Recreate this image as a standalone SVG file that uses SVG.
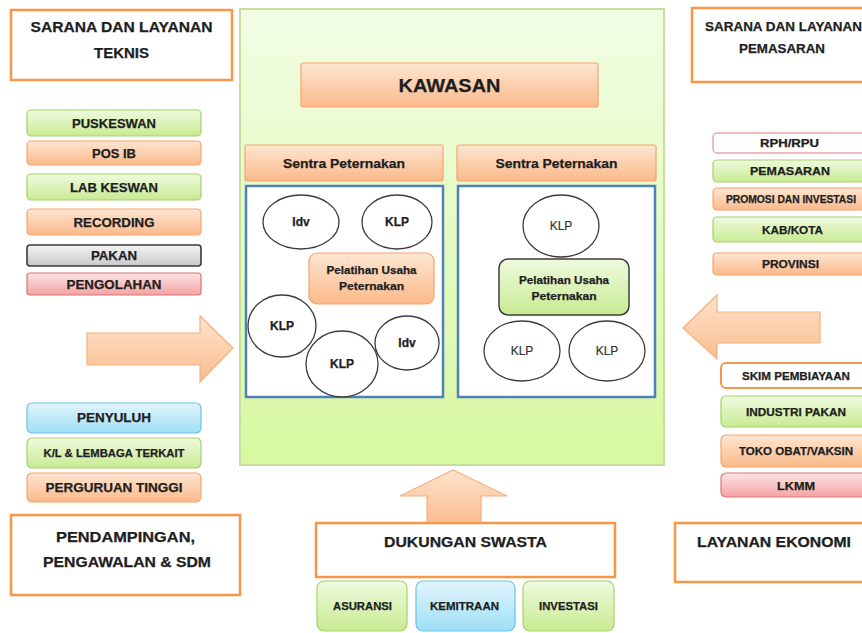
<svg xmlns="http://www.w3.org/2000/svg" width="862" height="633" viewBox="0 0 862 633">
  <defs>
    <linearGradient id="gOrange" x1="0" y1="0" x2="0" y2="1">
      <stop offset="0" stop-color="#fde6d2"/>
      <stop offset="1" stop-color="#fbb98a"/>
    </linearGradient>
    <linearGradient id="gGreen" x1="0" y1="0" x2="0" y2="1">
      <stop offset="0" stop-color="#effadf"/>
      <stop offset="1" stop-color="#c8eb92"/>
    </linearGradient>
    <linearGradient id="gBlue" x1="0" y1="0" x2="0" y2="1">
      <stop offset="0" stop-color="#e2f4fb"/>
      <stop offset="1" stop-color="#9ee0f6"/>
    </linearGradient>
    <linearGradient id="gGray" x1="0" y1="0" x2="0" y2="1">
      <stop offset="0" stop-color="#f4f4f4"/>
      <stop offset="1" stop-color="#c8c8c8"/>
    </linearGradient>
    <linearGradient id="gPink" x1="0" y1="0" x2="0" y2="1">
      <stop offset="0" stop-color="#fde4e4"/>
      <stop offset="1" stop-color="#f4a3a3"/>
    </linearGradient>
    <linearGradient id="gZone" x1="0" y1="0" x2="0" y2="1">
      <stop offset="0" stop-color="#f2fde4"/>
      <stop offset="1" stop-color="#d7f8a0"/>
    </linearGradient>
    <linearGradient id="gArrowH" x1="0" y1="0" x2="0" y2="1">
      <stop offset="0" stop-color="#fde3cc"/>
      <stop offset="1" stop-color="#fbbd8f"/>
    </linearGradient>
  </defs>
  <style>
    text { font-family: "Liberation Sans", Arial, sans-serif; font-weight: bold; fill: #1e1e1e; stroke: #1e1e1e; stroke-width: 0.25; text-anchor: middle; }
    .head { fill: #ffffff; stroke: #f79646; stroke-width: 2.5; }
    .or { fill: url(#gOrange); stroke: #f5a46a; stroke-width: 1.2; }
    .gr { fill: url(#gGreen); stroke: #a6cf6c; stroke-width: 1.2; }
    .bl { fill: url(#gBlue); stroke: #6cc3e0; stroke-width: 1.2; }
    .gy { fill: url(#gGray); stroke: #3a3a3a; stroke-width: 1.6; }
    .pk { fill: url(#gPink); stroke: #d57777; stroke-width: 1.2; }
    .wp { fill: #ffffff; stroke: #e8a8a8; stroke-width: 1.5; }
    .wo { fill: #ffffff; stroke: #f79646; stroke-width: 2; }
    .arrow { fill: url(#gArrowH); stroke: #f6b07c; stroke-width: 1.2; }
    .cell { fill: #ffffff; stroke: #4f81bd; stroke-width: 2.5; }
    .ell { fill: #ffffff; stroke: #3c3c3c; stroke-width: 1.3; }
    .light { font-weight: normal; fill: #333333; stroke: #333333; stroke-width: 0.2; }
    .t14 { font-size: 14px; }
    .t13 { font-size: 13px; }
    .t12 { font-size: 12px; }
    .t11 { font-size: 11px; }
    .t10 { font-size: 10px; }
  </style>

  <!-- central zone -->
  <g id="kawasan-zone">
    <rect x="240" y="9" width="424" height="456" fill="url(#gZone)" stroke="#c6df9c" stroke-width="2"/>
  </g>
  <g id="kawasan">
    <rect x="301" y="63" width="297" height="44" rx="2" class="or"/>
    <text x="449.5" y="92" font-size="19" textLength="102" lengthAdjust="spacingAndGlyphs">KAWASAN</text>
  </g>

  <g id="sentra-1">
    <rect x="245" y="145" width="198" height="36" rx="2" class="or"/>
    <text x="344" y="168" class="t13" textLength="122" lengthAdjust="spacingAndGlyphs">Sentra Peternakan</text>
    <rect x="246" y="186" width="197" height="211" class="cell"/>
    <ellipse cx="301" cy="222" rx="38" ry="27" class="ell"/>
    <text x="301" y="226" class="t12">Idv</text>
    <ellipse cx="397" cy="222" rx="35" ry="27" class="ell"/>
    <text x="397" y="226" class="t12">KLP</text>
    <rect x="309" y="253" width="125" height="51" rx="8" class="or"/>
    <text x="371.5" y="274" class="t11" textLength="90" lengthAdjust="spacingAndGlyphs">Pelatihan Usaha</text>
    <text x="371.5" y="290" class="t11" textLength="65" lengthAdjust="spacingAndGlyphs">Peternakan</text>
    <ellipse cx="282" cy="326" rx="34" ry="31" class="ell"/>
    <text x="282" y="330" class="t12">KLP</text>
    <ellipse cx="342" cy="364" rx="36" ry="33" class="ell"/>
    <text x="342" y="368" class="t12">KLP</text>
    <ellipse cx="407" cy="343" rx="32" ry="27" class="ell"/>
    <text x="407" y="347" class="t12">Idv</text>
  </g>

  <g id="sentra-2">
    <rect x="457" y="145" width="199" height="36" rx="2" class="or"/>
    <text x="556.5" y="168" class="t13" textLength="122" lengthAdjust="spacingAndGlyphs">Sentra Peternakan</text>
    <rect x="458" y="186" width="197" height="211" class="cell"/>
    <ellipse cx="561" cy="226" rx="38" ry="31" class="ell"/>
    <text x="561" y="230" class="t12 light">KLP</text>
    <rect x="499" y="259" width="130" height="56" rx="9" fill="url(#gGreen)" stroke="#3c3c3c" stroke-width="1.5"/>
    <text x="564" y="284" class="t11" textLength="90" lengthAdjust="spacingAndGlyphs">Pelatihan Usaha</text>
    <text x="564" y="300" class="t11" textLength="65" lengthAdjust="spacingAndGlyphs">Peternakan</text>
    <ellipse cx="522" cy="351" rx="38" ry="30" class="ell"/>
    <text x="522" y="355" class="t12 light">KLP</text>
    <ellipse cx="607" cy="351" rx="38" ry="30" class="ell"/>
    <text x="607" y="355" class="t12 light">KLP</text>
  </g>

  <!-- technical services -->
  <g id="sarana-teknis">
    <rect x="11" y="10" width="221" height="70" class="head"/>
    <text x="121.5" y="32" class="t14" textLength="182" lengthAdjust="spacingAndGlyphs">SARANA DAN LAYANAN</text>
    <text x="121.5" y="58" class="t14" textLength="55" lengthAdjust="spacingAndGlyphs">TEKNIS</text>
  </g>
  <g id="puskeswan"><rect x="27" y="110" width="174" height="26" rx="4" class="gr"/><text x="114" y="128" class="t13" textLength="84" lengthAdjust="spacingAndGlyphs">PUSKESWAN</text></g>
  <g id="pos-ib"><rect x="27" y="141" width="174" height="24" rx="4" class="or"/><text x="114" y="158" class="t13" textLength="44" lengthAdjust="spacingAndGlyphs">POS IB</text></g>
  <g id="lab-keswan"><rect x="27" y="174" width="174" height="26" rx="4" class="gr"/><text x="114" y="192" class="t13" textLength="88" lengthAdjust="spacingAndGlyphs">LAB KESWAN</text></g>
  <g id="recording"><rect x="27" y="209" width="174" height="26" rx="4" class="or"/><text x="114" y="227" class="t13" textLength="81" lengthAdjust="spacingAndGlyphs">RECORDING</text></g>
  <g id="pakan"><rect x="27" y="245" width="174" height="21" rx="3" class="gy"/><text x="114" y="260" class="t13" textLength="46" lengthAdjust="spacingAndGlyphs">PAKAN</text></g>
  <g id="pengolahan"><rect x="27" y="273" width="174" height="22" rx="3" class="pk"/><text x="114" y="289" class="t13" textLength="95" lengthAdjust="spacingAndGlyphs">PENGOLAHAN</text></g>

  <!-- mentoring and human resources -->
  <g id="penyuluh"><rect x="27" y="403" width="174" height="30" rx="5" class="bl"/><text x="114" y="422" class="t13" textLength="74" lengthAdjust="spacingAndGlyphs">PENYULUH</text></g>
  <g id="kl-lembaga"><rect x="27" y="438" width="174" height="30" rx="5" class="gr"/><text x="114" y="457" class="t10" textLength="141" lengthAdjust="spacingAndGlyphs">K/L &amp; LEMBAGA TERKAIT</text></g>
  <g id="perguruan-tinggi"><rect x="27" y="473" width="174" height="29" rx="5" class="or"/><text x="114" y="492" class="t13" textLength="137" lengthAdjust="spacingAndGlyphs">PERGURUAN TINGGI</text></g>
  <g id="pendampingan">
    <rect x="11" y="515" width="229" height="80" class="head"/>
    <text x="125.5" y="542" class="t14" textLength="139" lengthAdjust="spacingAndGlyphs">PENDAMPINGAN,</text>
    <text x="127" y="567" class="t14" textLength="168" lengthAdjust="spacingAndGlyphs">PENGAWALAN &amp; SDM</text>
  </g>

  <!-- marketing services -->
  <g id="sarana-pemasaran">
    <rect x="692" y="8" width="180" height="74" class="head"/>
    <text x="783.5" y="31" class="t13" textLength="157" lengthAdjust="spacingAndGlyphs">SARANA DAN LAYANAN</text>
    <text x="782" y="53" class="t13" textLength="86" lengthAdjust="spacingAndGlyphs">PEMASARAN</text>
  </g>
  <g id="rph-rpu"><rect x="713" y="133" width="160" height="20" rx="4" class="wp"/><text x="789.5" y="147" class="t11" textLength="59" lengthAdjust="spacingAndGlyphs">RPH/RPU</text></g>
  <g id="pemasaran"><rect x="713" y="160" width="160" height="22" rx="4" class="gr"/><text x="790" y="175" class="t11" textLength="80" lengthAdjust="spacingAndGlyphs">PEMASARAN</text></g>
  <g id="promosi"><rect x="713" y="188" width="160" height="22" rx="4" class="or"/><text x="791" y="203" class="t10" textLength="130" lengthAdjust="spacingAndGlyphs">PROMOSI DAN INVESTASI</text></g>
  <g id="kab-kota"><rect x="713" y="217" width="160" height="25" rx="4" class="gr"/><text x="792.5" y="234" class="t11" textLength="61" lengthAdjust="spacingAndGlyphs">KAB/KOTA</text></g>
  <g id="provinsi"><rect x="713" y="253" width="160" height="22" rx="4" class="or"/><text x="790.5" y="268" class="t11" textLength="57" lengthAdjust="spacingAndGlyphs">PROVINSI</text></g>

  <!-- economic services -->
  <g id="skim"><rect x="721" y="363" width="152" height="25" rx="5" class="wo"/><text x="796" y="380" class="t11" textLength="108" lengthAdjust="spacingAndGlyphs">SKIM PEMBIAYAAN</text></g>
  <g id="industri-pakan"><rect x="721" y="396" width="152" height="31" rx="5" class="gr"/><text x="796" y="416" class="t11" textLength="100" lengthAdjust="spacingAndGlyphs">INDUSTRI PAKAN</text></g>
  <g id="toko-obat"><rect x="721" y="435" width="152" height="32" rx="5" class="or"/><text x="796" y="455" class="t11" textLength="114" lengthAdjust="spacingAndGlyphs">TOKO OBAT/VAKSIN</text></g>
  <g id="lkmm"><rect x="721" y="473" width="152" height="24" rx="5" class="pk"/><text x="796" y="490" class="t11" textLength="38" lengthAdjust="spacingAndGlyphs">LKMM</text></g>
  <g id="layanan-ekonomi">
    <rect x="675" y="523" width="197" height="59" class="head"/>
    <text x="774" y="547" class="t14" textLength="154" lengthAdjust="spacingAndGlyphs">LAYANAN EKONOMI</text>
  </g>

  <!-- private sector support -->
  <g id="dukungan-swasta">
    <rect x="316" y="523" width="299" height="54" class="head"/>
    <text x="465.5" y="547" class="t14" textLength="163" lengthAdjust="spacingAndGlyphs">DUKUNGAN SWASTA</text>
  </g>
  <g id="asuransi"><rect x="317" y="581" width="90" height="50" rx="7" class="gr"/><text x="362.5" y="610" class="t11" textLength="59" lengthAdjust="spacingAndGlyphs">ASURANSI</text></g>
  <g id="kemitraan"><rect x="416" y="581" width="99" height="50" rx="7" class="bl"/><text x="464.5" y="610" class="t11" textLength="69" lengthAdjust="spacingAndGlyphs">KEMITRAAN</text></g>
  <g id="investasi"><rect x="523" y="581" width="91" height="50" rx="7" class="gr"/><text x="568.5" y="610" class="t11" textLength="59" lengthAdjust="spacingAndGlyphs">INVESTASI</text></g>

  <!-- block arrows feeding the zone -->
  <g id="connectors">
    <path d="M87 333 H200 V316 L233 348 L200 382 V365 H87 Z" class="arrow"/>
    <path d="M820 312 H717 V295 L683 328 L717 359 V343 H820 Z" class="arrow"/>
    <path d="M427 522 V496 H400 L453 470 L507 496 H481 V522" class="arrow"/>
  </g>
</svg>
